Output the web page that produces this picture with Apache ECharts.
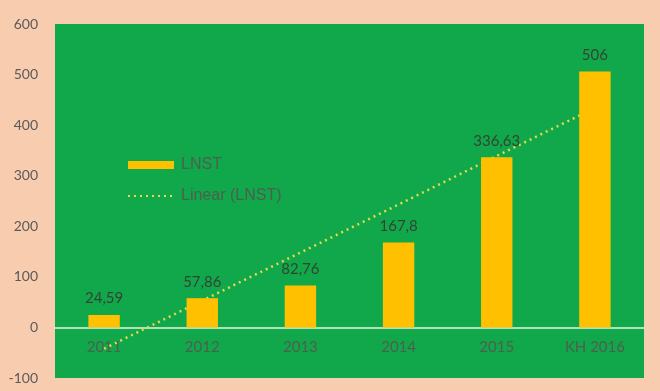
<!DOCTYPE html>
<html><head><meta charset="utf-8">
<script src="https://cdn.jsdelivr.net/npm/echarts@6/dist/echarts.min.js"></script>
<style>html,body{margin:0;padding:0;background:#F8CCAE;}#c{width:660px;height:391px;}</style>
</head><body><div id="c"></div>
<script>
const categories = ['2011', '2012', '2013', '2014', '2015', 'KH 2016'];
const lnst = [24.59, 57.86, 82.76, 167.8, 336.63, 506];
const trend = [-42, 53, 148, 243, 339, 434];
const yTicks = { min: -100, max: 600, interval: 100 };

const chart = echarts.init(document.getElementById('c'));
const font = 'Lato, "Liberation Sans", sans-serif';
const font2 = '"Liberation Sans", Arial, sans-serif';
chart.setOption({
  backgroundColor: '#F8CCAE',
  animation: false,
  textStyle: { fontFamily: font },
  grid: { left: 55, top: 24, right: 16, bottom: 13, show: true, backgroundColor: '#10A84A', borderWidth: 0,
          containLabel: false, outerBoundsMode: 'none' },
  legend: {
    orient: 'vertical', left: 127, top: 157, padding: 0, itemWidth: 46, itemHeight: 8, itemGap: 15,
    textStyle: { color: '#4F5F4F', fontSize: 16, fontFamily: font2, padding: [0, 0, 0, 2] },
    data: [
      { name: 'LNST', icon: 'rect' },
      { name: 'Linear (LNST)', itemStyle: { opacity: 0 } }
    ]
  },
  xAxis: {
    type: 'category', data: categories,
    axisLine: { onZero: true, lineStyle: { color: '#E6F2DC', width: 1.5 } },
    axisTick: { show: false },
    axisLabel: { color: '#4F5F4F', fontSize: 15, margin: -38, fontFamily: font },
    splitLine: { show: false }
  },
  yAxis: {
    type: 'value', min: yTicks.min, max: yTicks.max, interval: yTicks.interval,
    axisLine: { show: false }, axisTick: { show: false },
    splitLine: { show: false },
    axisLabel: { color: '#5A5A5A', fontSize: 14, margin: 17, fontFamily: font }
  },
  series: [
    {
      name: 'Linear (LNST)', type: 'line', data: trend, symbol: 'none', z: 1,
      lineStyle: { color: '#E8D84A', width: 2.5, type: [2, 4] },
      itemStyle: { color: '#E8D84A' }
    },
    {
      name: 'LNST', type: 'bar', data: lnst, barWidth: '32%', z: 2,
      itemStyle: { color: '#FFC000' },
      label: {
        show: true, position: 'top', distance: 9, color: '#344434', fontSize: 15, fontFamily: font,
        formatter: p => String(p.value).replace('.', ',')
      }
    }
  ]
});
</script></body></html>
